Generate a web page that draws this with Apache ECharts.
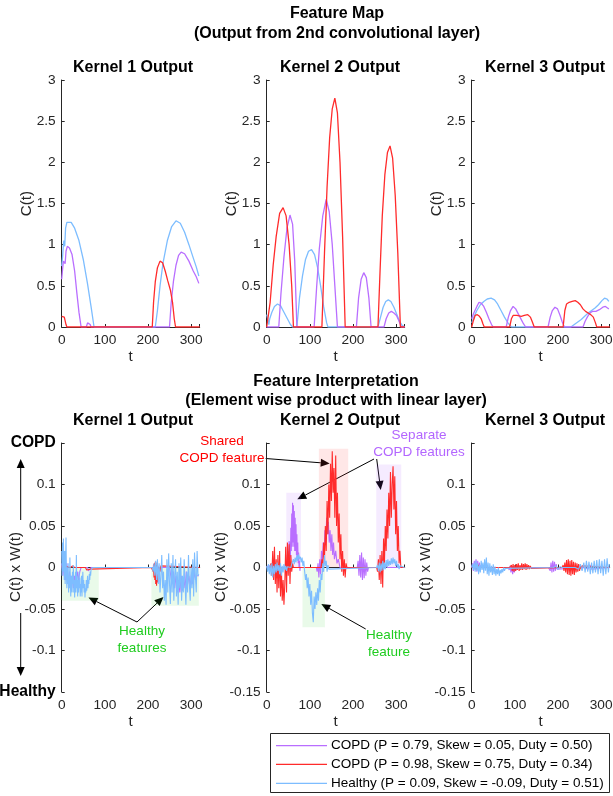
<!DOCTYPE html>
<html>
<head>
<meta charset="utf-8">
<script src="https://cdn.jsdelivr.net/npm/echarts@6/dist/echarts.min.js"></script>
<style>
  html, body { margin: 0; padding: 0; background: #fff; }
  #main { width: 613px; height: 796px; }
</style>
</head>
<body>
<div id="main"></div>
<script>
// feature map (top row), [t, C(t)]
const k1Purple = [[0,0.58],[2,0.7],[4,0.8],[6,0.82],[8,0.77],[10,0.92],[13,0.98],[18,0.96],[24,0.88],[30,0.68],[35,0.42],[40,0.18],[45,0],[57,0],[60,0.05],[63,0.06],[66,0.03],[68,0],[250,0],[254,0.3],[259,0.55],[265,0.75],[271,0.87],[277,0.91],[285,0.89],[295,0.8],[305,0.68],[312,0.61],[318,0.53]];
const k1Red = [[0,0.13],[3,0.13],[6,0.12],[8,0.1],[10,0.03],[12,0],[210,0],[213,0.3],[217,0.55],[222,0.72],[228,0.8],[234,0.78],[240,0.68],[246,0.56],[252,0.45],[257,0.3],[261,0.1],[264,0],[320,0]];
const k1Blue = [[0,0.74],[2,0.85],[4,1.0],[5,1.05],[7,0.98],[9,1.2],[12,1.27],[16,1.29],[22,1.27],[30,1.2],[40,1.05],[50,0.82],[60,0.52],[68,0.25],[75,0],[217,0],[222,0.2],[228,0.5],[235,0.78],[245,1.05],[255,1.22],[265,1.29],[275,1.26],[285,1.15],[295,1.0],[305,0.84],[312,0.73],[318,0.62]];

const k2Purple = [[0,0],[28,0],[33,0.4],[40,0.85],[47,1.2],[54,1.36],[60,1.25],[65,0.8],[70,0],[110,0],[116,0.5],[122,0.95],[130,1.35],[138,1.55],[145,1.4],[152,1.0],[158,0.5],[164,0],[208,0],[213,0.35],[219,0.58],[225,0.66],[231,0.6],[237,0.35],[242,0],[272,0],[277,0.1],[283,0.17],[289,0.19],[295,0.17],[301,0.14],[307,0.07],[312,0],[320,0]];
const k2Red = [[0,0],[3,0],[8,0.3],[15,0.75],[22,1.1],[30,1.38],[38,1.45],[45,1.35],[52,1.0],[58,0.5],[62,0],[128,0],[134,0.9],[140,1.7],[146,2.3],[152,2.65],[158,2.78],[164,2.6],[170,2.0],[176,1.1],[182,0],[258,0],[263,0.7],[268,1.35],[274,1.85],[280,2.12],[286,2.2],[292,2.05],[298,1.6],[304,0.9],[310,0],[320,0]];
const k2Blue = [[0,0.15],[3,0.08],[5,0.03],[7,0.1],[12,0.18],[18,0.25],[25,0.28],[32,0.26],[40,0.18],[48,0.1],[55,0.03],[60,0],[70,0],[76,0.35],[83,0.62],[90,0.82],[97,0.92],[104,0.94],[111,0.88],[118,0.72],[125,0.5],[132,0.25],[139,0.05],[142,0],[258,0],[264,0.12],[270,0.24],[276,0.31],[282,0.33],[288,0.31],[295,0.24],[302,0.15],[308,0.07],[314,0.02],[320,0]];

const k3Purple = [[0,0.1],[4,0.16],[8,0.14],[12,0.25],[17,0.3],[22,0.29],[28,0.25],[34,0.18],[40,0.1],[46,0.03],[50,0],[80,0],[85,0.12],[90,0.2],[96,0.25],[102,0.22],[108,0.16],[115,0.09],[120,0.04],[125,0],[177,0],[182,0.12],[187,0.2],[193,0.24],[199,0.22],[205,0.14],[210,0.06],[215,0],[258,0],[263,0.07],[268,0.12],[274,0.17],[280,0.19],[288,0.19],[296,0.21],[304,0.24],[310,0.25],[315,0.23],[318,0.22]];
const k3Red = [[0,0],[4,0.08],[8,0.14],[13,0.15],[18,0.13],[22,0.1],[26,0.04],[29,0],[88,0],[92,0.1],[96,0.14],[105,0.14],[115,0.13],[122,0.14],[130,0.15],[136,0.12],[140,0.07],[145,0],[212,0],[216,0.2],[220,0.28],[226,0.3],[233,0.31],[240,0.32],[246,0.3],[252,0.27],[258,0.22],[264,0.19],[270,0.17],[276,0.15],[282,0.12],[287,0.05],[290,0],[320,0]];
const k3Blue = [[0,0.05],[5,0.12],[12,0.2],[20,0.27],[28,0.31],[36,0.34],[45,0.35],[53,0.33],[60,0.28],[68,0.2],[76,0.12],[84,0.05],[92,0],[230,0],[238,0.03],[246,0.06],[254,0.09],[262,0.13],[270,0.17],[278,0.2],[286,0.23],[294,0.27],[302,0.32],[308,0.35],[314,0.34],[318,0.31]];

// feature interpretation (bottom row), [t, C(t) x W(t)]
const b1Purple = [[0,0.005],[3,-0.01],[6,0.01],[9,-0.015],[12,0.005],[15,-0.02],[18,-0.005],[21,-0.02],[24,-0.01],[27,-0.025],[30,-0.01],[33,-0.02],[36,-0.005],[39,-0.015],[42,-0.005],[45,0],[60,0],[62,-0.004],[65,-0.002],[68,0],[250,0],[253,-0.01],[256,-0.02],[259,-0.005],[262,-0.025],[265,-0.01],[268,-0.03],[271,-0.015],[274,-0.03],[277,-0.01],[280,-0.028],[283,-0.012],[286,-0.025],[289,-0.005],[292,-0.02],[295,-0.01],[298,-0.022],[301,-0.008],[304,-0.02],[307,-0.005],[310,-0.015],[313,-0.01],[316,-0.012],[318,-0.01]];
const b1Red = [[0,0],[2,0.003],[4,-0.002],[6,0.002],[10,0],[20,0],[25,0.002],[30,0],[55,0],[58,-0.003],[62,-0.004],[66,-0.002],[70,0],[208,0],[210,0.002],[212,-0.005],[213,0.004],[214,-0.012],[215,0.005],[216,-0.015],[217,0.007],[218,-0.02],[219,0.003],[220,-0.022],[221,0.006],[222,-0.018],[223,0.002],[224,-0.01],[226,0],[228,-0.005],[230,0.002],[234,0],[320,0]];
const b1Blue = [[0,0.02],[1,-0.01],[2,0.03],[3,-0.005],[4,0.035],[5,0],[6,-0.015],[7,0.02],[8,-0.02],[9,0.005],[10,0.036],[11,-0.01],[12,-0.025],[13,0],[14,-0.02],[15,0.005],[16,-0.03],[17,-0.01],[18,-0.025],[19,0.012],[20,-0.015],[21,-0.035],[22,-0.01],[24,-0.03],[25,-0.005],[26,-0.02],[27,0.003],[28,-0.03],[29,-0.015],[30,-0.036],[31,-0.02],[32,-0.005],[33,-0.03],[34,0.015],[35,-0.025],[36,-0.01],[37,-0.035],[38,-0.015],[39,-0.03],[40,-0.005],[41,-0.025],[42,-0.012],[43,-0.035],[44,-0.02],[45,-0.03],[46,-0.01],[47,-0.035],[48,-0.02],[49,-0.005],[50,-0.025],[51,-0.015],[52,-0.03],[53,-0.02],[54,-0.036],[55,-0.025],[56,-0.03],[57,-0.015],[58,-0.028],[59,-0.02],[60,-0.01],[61,-0.025],[62,-0.015],[63,-0.02],[64,-0.008],[65,-0.015],[66,-0.005],[67,-0.01],[68,-0.003],[70,-0.002],[72,0],[210,0],[212,-0.005],[214,0.005],[216,-0.01],[218,0.008],[220,-0.015],[222,0.01],[224,-0.02],[226,0.005],[228,-0.03],[230,-0.01],[232,0.015],[234,-0.025],[236,-0.005],[238,-0.04],[240,-0.015],[242,-0.045],[244,0.01],[246,-0.03],[248,0.017],[250,-0.02],[252,-0.044],[254,0.005],[256,-0.03],[258,0.015],[260,-0.04],[262,-0.01],[264,0.01],[266,-0.035],[268,-0.005],[270,-0.045],[272,0.005],[274,-0.025],[276,0.012],[278,-0.04],[280,-0.01],[282,-0.03],[284,0.01],[286,-0.02],[288,-0.045],[290,-0.005],[292,-0.03],[294,0.015],[296,-0.02],[298,-0.04],[300,0],[302,-0.025],[304,0.01],[306,-0.035],[308,0.018],[310,-0.01],[312,-0.03],[314,0.02],[316,-0.01],[318,-0.008]];

const b2Purple = [[0,0],[5,0.003],[10,-0.003],[15,0.002],[20,0],[45,0],[46,0.008],[47,0.002],[48,0.015],[49,0.004],[50,0.02],[51,0.006],[52,0.032],[53,0.01],[54,0.03],[55,0.012],[56,0.048],[57,0.02],[58,0.065],[59,0.025],[60,0.078],[61,0.03],[62,0.075],[63,0.025],[64,0.068],[65,0.02],[66,0.06],[67,0.02],[68,0.052],[69,0.015],[70,0.04],[71,0.01],[72,0.03],[73,0.005],[74,0.018],[75,0],[76,0.008],[77,-0.004],[78,0],[115,0],[117,-0.005],[119,0.005],[121,-0.012],[123,0.01],[125,-0.008],[127,0.02],[129,0.005],[131,0.03],[133,0.015],[135,0.045],[137,0.03],[139,0.06],[141,0.04],[143,0.055],[145,0.03],[147,0.045],[149,0.02],[151,0.04],[153,0.015],[155,0.03],[157,0.01],[160,0.02],[163,0.005],[166,0.01],[170,0],[210,0],[212,0.008],[214,-0.01],[216,0.015],[218,-0.012],[220,0.018],[222,-0.015],[224,0.012],[226,-0.013],[228,0.01],[230,-0.01],[232,0.006],[234,-0.005],[236,0],[260,0],[265,0.003],[270,-0.003],[275,0.004],[280,0],[320,0]];
const b2Red = [[0,0],[8,0],[10,0.005],[12,-0.01],[14,0.02],[16,-0.015],[18,0.025],[20,-0.02],[22,0.01],[24,-0.03],[26,0.015],[28,-0.025],[30,0.02],[32,-0.035],[34,0],[36,-0.04],[38,-0.015],[40,-0.045],[42,-0.02],[44,0.025],[46,-0.03],[48,0.03],[50,-0.01],[52,0.028],[54,-0.02],[56,0.015],[58,-0.005],[60,0.005],[62,0],[126,0],[128,0.01],[130,-0.005],[132,0.03],[134,0.01],[136,0.05],[138,0.02],[140,0.08],[142,0.04],[144,0.1],[146,0.06],[148,0.125],[150,0.08],[152,0.14],[154,0.09],[156,0.12],[158,0.06],[160,0.135],[162,0.05],[164,0.09],[166,0.03],[168,0.065],[170,0.01],[172,0.04],[174,-0.005],[176,0.02],[178,-0.01],[180,0.01],[182,-0.012],[184,0.005],[186,0],[255,0],[257,-0.005],[259,0.01],[261,-0.015],[263,0.015],[265,-0.02],[267,0.02],[269,-0.024],[271,0.035],[273,0.005],[275,0.05],[277,0.02],[279,0.07],[281,0.035],[283,0.09],[285,0.05],[287,0.115],[289,0.06],[291,0.1],[293,0.122],[295,0.07],[297,0.11],[299,0.04],[301,0.08],[303,0.02],[305,0.05],[307,0.005],[309,0.02],[311,0],[313,0],[320,0]];
const b2Blue = [[0,0.002],[2,-0.005],[4,0.004],[6,-0.008],[8,0.003],[10,-0.01],[12,0.005],[14,-0.012],[16,0.002],[18,-0.008],[20,0.004],[22,-0.006],[24,0.006],[26,-0.004],[28,0.003],[30,-0.008],[32,0.005],[34,-0.01],[36,0.002],[38,-0.006],[40,0.004],[42,-0.003],[44,0.002],[46,-0.004],[48,0.001],[50,0],[56,0],[58,0.004],[60,0.002],[62,0.01],[64,0.004],[66,0.012],[68,0.006],[70,0.015],[72,0.008],[74,0.016],[76,0.01],[78,0.013],[80,0.006],[82,0.012],[84,0.002],[86,0.008],[88,-0.005],[90,-0.015],[92,-0.008],[94,-0.025],[96,-0.012],[98,-0.035],[100,-0.02],[102,-0.045],[104,-0.028],[106,-0.055],[108,-0.066],[110,-0.035],[112,-0.05],[114,-0.03],[116,-0.045],[118,-0.025],[120,-0.04],[122,-0.015],[124,-0.03],[126,-0.008],[128,-0.015],[130,0.005],[132,-0.005],[134,0.015],[136,0.002],[138,0.008],[140,-0.005],[142,0.003],[144,-0.002],[146,0],[255,0],[257,0.003],[259,-0.004],[261,0.006],[263,-0.006],[265,0.005],[267,-0.004],[269,0.008],[271,-0.003],[273,0.006],[275,-0.002],[277,0.009],[279,0],[281,0.01],[283,0.002],[285,0.008],[287,0.003],[289,0.011],[291,0.004],[293,0.012],[295,0.005],[297,0.01],[299,0.002],[301,0.008],[303,0],[305,0.004],[307,-0.002],[309,0.002],[312,0],[320,0]];

const b3Purple = [[0,0],[2,0.005],[4,-0.004],[6,0.008],[8,-0.003],[10,0.01],[12,-0.005],[14,0.008],[16,-0.004],[18,0.006],[20,-0.003],[22,0.003],[24,0],[85,0],[87,-0.003],[89,0.002],[91,-0.006],[93,0.002],[95,-0.008],[97,0.001],[99,-0.006],[101,0],[103,-0.003],[105,0],[178,0],[180,0.002],[182,-0.004],[184,0.006],[186,-0.006],[188,0.008],[190,-0.005],[192,0.007],[194,-0.004],[196,0.004],[198,-0.002],[200,0],[262,0],[266,0.002],[270,-0.002],[274,0.003],[278,-0.002],[282,0],[320,0]];
const b3Red = [[0,0],[5,0.002],[10,-0.002],[15,0.003],[20,0],[88,0],[90,-0.002],[92,0.003],[94,-0.004],[96,0.004],[98,-0.005],[100,0.003],[102,-0.004],[104,0.004],[106,-0.003],[108,0.005],[110,-0.004],[112,0.003],[114,-0.003],[116,0.005],[118,-0.003],[120,0.004],[122,-0.002],[124,0.005],[126,-0.003],[128,0.004],[130,-0.002],[132,0.003],[134,-0.002],[136,0.002],[138,-0.001],[140,0],[210,0],[212,0.003],[214,-0.004],[216,0.006],[218,-0.006],[220,0.009],[222,-0.008],[224,0.01],[226,-0.009],[228,0.008],[230,-0.01],[232,0.009],[234,-0.008],[236,0.007],[238,-0.009],[240,0.006],[242,-0.006],[244,0.005],[246,-0.005],[248,0.004],[250,-0.004],[252,0.003],[254,-0.002],[256,0.002],[258,0],[320,0]];
const b3Blue = [[0,0],[2,0.004],[4,-0.003],[6,0.006],[8,-0.005],[10,0.008],[12,-0.004],[14,0.005],[16,-0.008],[18,0.003],[20,-0.006],[22,0.008],[24,-0.003],[26,0.006],[28,-0.007],[30,0.01],[32,-0.004],[34,0.012],[36,-0.008],[38,0.006],[40,-0.01],[42,0.005],[44,-0.006],[46,0.002],[48,-0.009],[50,0.004],[52,-0.008],[54,0.001],[56,-0.01],[58,-0.002],[60,-0.008],[62,0],[64,-0.01],[66,-0.003],[68,-0.007],[70,-0.002],[72,-0.006],[74,0],[76,-0.004],[78,-0.001],[80,-0.003],[82,0],[190,0],[195,0.002],[200,-0.002],[205,0.001],[210,0],[240,0],[244,0.002],[248,-0.002],[252,0.004],[256,-0.004],[260,0.006],[263,-0.006],[266,0.008],[269,-0.005],[272,0.007],[275,-0.008],[278,0.006],[281,-0.007],[284,0.008],[287,-0.006],[290,0.009],[293,-0.008],[296,0.01],[299,-0.007],[302,0.008],[305,-0.01],[308,0.01],[311,-0.008],[314,0.011],[317,-0.006],[319,0.004]];

// highlighted regions: [t0, y0, t1, y1, kind]
const b1Boxes = [[0, -0.04, 86, 0, 'g'], [208, -0.046, 318, 0, 'g']];
const b2Boxes = [[45.5, 0, 79.5, 0.09, 'p'], [121, 0, 189, 0.143, 'r'], [254, 0, 312, 0.124, 'p'], [83, -0.072, 135, 0, 'g']];

const legendNames = [
  'COPD (P = 0.79, Skew = 0.05, Duty = 0.50)',
  'COPD (P = 0.98, Skew = 0.75, Duty = 0.34)',
  'Healthy (P = 0.09, Skew = -0.09, Duty = 0.51)'
];

const PURPLE = '#B96EFF', RED = '#FF2B2B', BLUE = '#7DBDFF';
const BOX = { g: 'rgba(40,210,40,0.10)', p: 'rgba(170,90,255,0.12)', r: 'rgba(255,60,60,0.12)' };
const FONT = 'Liberation Sans, Arial, sans-serif';
const INK = '#262626';

const lefts = [61.7, 266.7, 471.7];
const W = 138;
const grids = [];
lefts.forEach(l => grids.push({ left: l, top: 80, width: W, height: 247, outerBoundsMode: 'none', containLabel: false }));
lefts.forEach(l => grids.push({ left: l, top: 443, width: W, height: 249, outerBoundsMode: 'none', containLabel: false }));

function xAx(gi) {
  return {
    gridIndex: gi, type: 'value', min: 0, max: 320, interval: 100,
    name: 't', nameLocation: 'middle', nameGap: 22,
    nameTextStyle: { fontFamily: FONT, fontSize: 15.2, color: INK },
    axisLine: { lineStyle: { color: INK, width: 1 } },
    axisTick: { inside: true, length: 3, lineStyle: { color: INK } },
    axisLabel: { margin: 6, fontFamily: FONT, fontSize: 13.7, color: INK,
      formatter: v => (v % 100 === 0 ? String(v) : '') },
    splitLine: { show: false }
  };
}

function yTop(gi) {
  return {
    gridIndex: gi, type: 'value', min: 0, max: 3, interval: 0.5,
    axisLine: { show: true, lineStyle: { color: INK, width: 1 } },
    axisTick: { show: true, inside: true, length: 3, lineStyle: { color: INK } },
    axisLabel: { margin: 6, fontFamily: FONT, fontSize: 13.7, color: INK },
    splitLine: { show: false }
  };
}

function yBot(gi, first) {
  return {
    gridIndex: gi, type: 'value', min: -0.15, max: 0.15, interval: 0.05,
    axisLine: { show: true, lineStyle: { color: INK, width: 1 } },
    axisTick: { show: true, inside: true, length: 3, lineStyle: { color: INK } },
    axisLabel: {
      margin: 6, fontFamily: FONT, fontSize: 13.7, color: INK,
      rich: { b: { fontFamily: FONT, fontSize: 15.6, fontWeight: 'bold', color: '#000' } },
      formatter: v => {
        const r = Math.round(v * 100) / 100;
        if (Math.abs(r - 0.15) < 1e-9) return first ? '{b|COPD}' : '';
        if (Math.abs(r + 0.15) < 1e-9) return first ? '{b|Healthy}' : '-0.15';
        return String(r);
      }
    },
    splitLine: { show: false }
  };
}

const xAxes = [0, 1, 2, 3, 4, 5].map(xAx);
const yAxes = [yTop(0), yTop(1), yTop(2), yBot(3, true), yBot(4, false), yBot(5, false)];

function line(gi, data, color, w) {
  return { type: 'line', xAxisIndex: gi, yAxisIndex: gi, data: data, showSymbol: false, symbol: 'none',
    lineStyle: { color: color, width: w }, itemStyle: { color: color }, silent: true, animation: false };
}

function boxes(gi, list) {
  return { type: 'line', xAxisIndex: gi, yAxisIndex: gi, data: [], silent: true, animation: false,
    markArea: { silent: true, data: list.map(b => [
      { xAxis: b[0], yAxis: b[1], itemStyle: { color: BOX[b[4]] } },
      { xAxis: b[2], yAxis: b[3] }
    ]) } };
}

const series = [
  line(0, k1Blue, BLUE, 1.3), line(0, k1Purple, PURPLE, 1.3), line(0, k1Red, RED, 1.3),
  line(1, k2Blue, BLUE, 1.3), line(1, k2Purple, PURPLE, 1.3), line(1, k2Red, RED, 1.3),
  line(2, k3Blue, BLUE, 1.3), line(2, k3Purple, PURPLE, 1.3), line(2, k3Red, RED, 1.3),
  boxes(3, b1Boxes), boxes(4, b2Boxes),
  line(3, b1Purple, PURPLE, 1.1), line(3, b1Red, RED, 1.1), line(3, b1Blue, BLUE, 1.1),
  line(4, b2Purple, PURPLE, 1.1), line(4, b2Red, RED, 1.1), line(4, b2Blue, BLUE, 1.1),
  line(5, b3Purple, PURPLE, 1.1), line(5, b3Red, RED, 1.1), line(5, b3Blue, BLUE, 1.1)
];

// annotation arrows (figure pixels), tail -> tip
const arrows = [
  [137, 622, 88.5, 597.5], [137, 622, 163.5, 597],
  [265.7, 458.5, 329.7, 463.5],
  [374, 459, 297.3, 499.3], [376.7, 459, 380.7, 490],
  [365.7, 629, 321.3, 604],
  [20.7, 520, 20.7, 459], [20.7, 613, 20.7, 676]
];

function arrowEls(a) {
  const [x1, y1, x2, y2] = a;
  const dx = x2 - x1, dy = y2 - y1, len = Math.hypot(dx, dy);
  const ux = dx / len, uy = dy / len, hl = 9, hw = 4;
  const bx = x2 - ux * hl, by = y2 - uy * hl;
  return [
    { type: 'line', silent: true, shape: { x1: x1, y1: y1, x2: bx, y2: by }, style: { stroke: '#000', lineWidth: 1 } },
    { type: 'polygon', silent: true, shape: { points: [[x2, y2], [bx - uy * hw, by + ux * hw], [bx + uy * hw, by - ux * hw]] }, style: { fill: '#000' } }
  ];
}

function txt(s, x, y, opts) {
  return { type: 'text', silent: true, x: x, y: y, style: Object.assign({
    text: s, textAlign: 'center', textVerticalAlign: 'middle', fill: '#000',
    font: '13.5px ' + FONT, lineHeight: 17 }, opts || {}) };
}

function yName(s, x, y) {
  return { type: 'text', silent: true, x: x, y: y, rotation: Math.PI / 2,
    style: { text: s, textAlign: 'center', textVerticalAlign: 'middle', fill: INK, font: '15.2px ' + FONT } };
}

const B = 'bold 16px ' + FONT;
const graphics = [
  txt('Feature Map', 337, 14, { font: B }),
  txt('(Output from 2nd convolutional layer)', 337, 34, { font: B }),
  txt('Kernel 1 Output', 133, 68, { font: B }),
  txt('Kernel 2 Output', 340, 68, { font: B }),
  txt('Kernel 3 Output', 545, 68, { font: B }),
  txt('Feature Interpretation', 336, 382, { font: B }),
  txt('(Element wise product with linear layer)', 336, 401, { font: B }),
  txt('Kernel 1 Output', 133, 421, { font: B }),
  txt('Kernel 2 Output', 340, 421, { font: B }),
  txt('Kernel 3 Output', 545, 421, { font: B }),
  txt('Shared\nCOPD feature', 222, 450, { fill: '#FF0000' }),
  txt('Separate\nCOPD features', 419, 443.5, { fill: '#B366FF' }),
  txt('Healthy\nfeatures', 142, 640, { fill: '#1FCC1F' }),
  txt('Healthy\nfeature', 389, 644, { fill: '#1FCC1F' })
];
lefts.forEach(l => {
  graphics.push(yName('C(t)', l - 34.5, 203.5));
  graphics.push(yName('C(t) x W(t)', l - 46.3, 567));
});
arrows.forEach(a => graphics.push(...arrowEls(a)));

// legend box
graphics.push({ type: 'rect', silent: true, shape: { x: 270.5, y: 733.5, width: 339, height: 59 },
  style: { fill: '#fff', stroke: INK, lineWidth: 1 } });
[PURPLE, RED, BLUE].forEach((c, i) => {
  const y = [745.7, 764.3, 783.3][i];
  graphics.push({ type: 'line', silent: true, shape: { x1: 276, y1: y, x2: 327, y2: y }, style: { stroke: c, lineWidth: 1.2 } });
  graphics.push(txt(legendNames[i], 331, y, { textAlign: 'left' }));
});

const chart = echarts.init(document.getElementById('main'), null, { renderer: 'canvas' });
chart.setOption({
  animation: false,
  backgroundColor: '#fff',
  grid: grids,
  xAxis: xAxes,
  yAxis: yAxes,
  series: series,
  graphic: { elements: graphics }
});
</script>
</body>
</html>
